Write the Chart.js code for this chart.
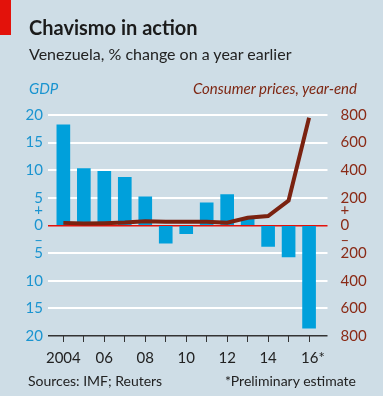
<!DOCTYPE html>
<html>
<head>
<meta charset="utf-8">
<script src="https://cdn.jsdelivr.net/npm/chart.js@4"></script>
<style>
  body { margin: 0; background: #cedde6; }
  #wrap { position: relative; width: 383px; height: 396px; overflow: hidden; font-family: Lato, sans-serif; }
  #wrap canvas { position: absolute; left: 0; top: 0; }
  .txt { position: absolute; line-height: 1; white-space: nowrap; }
  .redbar { position: absolute; left: 0; top: 0; width: 11px; height: 35px; background: #e3120b; }
</style>
</head>
<body>
<div id="wrap">
  <canvas id="chart" width="383" height="396"></canvas>
  <div class="redbar"></div>
  <div class="txt" style="left:29px; top:17px; font-size:20px; font-weight:bold; color:#1b1b1b;">Chavismo in action</div>
  <div class="txt" style="left:29px; top:46px; font-size:16px; color:#222;">Venezuela, % change on a year earlier</div>
  <div class="txt" style="left:29px; top:81px; font-size:15px; font-style:italic; color:#1a94d0;">GDP</div>
  <div class="txt" style="right:26px; top:81px; font-size:15px; font-style:italic; color:#7e2713;">Consumer prices, year-end</div>
  <div class="txt" style="left:28px; top:374px; font-size:14px; color:#222;">Sources: IMF; Reuters</div>
  <div class="txt" style="right:27px; top:374px; font-size:14px; color:#222;">*Preliminary estimate</div>
</div>
<script>
const years = [2004, 2005, 2006, 2007, 2008, 2009, 2010, 2011, 2012, 2013, 2014, 2015, 2016];
const yearLabels = ["2004", "", "06", "", "08", "", "10", "", "12", "", "14", "", "  16*"];
// GDP, % change on a year earlier
const gdp = [18.2, 10.3, 9.8, 8.7, 5.2, -3.2, -1.5, 4.1, 5.6, 1.3, -3.8, -5.7, -18.6];
// consumer prices, year-end, % change
const prices = [19, 14, 17, 22, 31, 27, 27, 28, 20, 56, 68, 181, 780];

const blue = "#00a0db";
const brown = "#7a2210";

function signLabel(v) {
	if (v === 0) return ["+", "0", "\u2013"];
	return String(Math.abs(v));
}

new Chart(document.getElementById("chart"), {
	type: "bar",
	data: {
		datasets: [
			{
				type: "line",
				data: years.map((y, i) => ({ x: y, y: prices[i] })),
				yAxisID: "y2",
				borderColor: brown,
				borderWidth: 4,
				pointRadius: 0,
				tension: 0,
				borderCapStyle: "butt",
				order: 0,
			},
			{
				type: "bar",
				data: years.map((y, i) => ({ x: y, y: gdp[i] })),
				yAxisID: "y",
				backgroundColor: blue,
				barThickness: 13,
				order: 1,
			},
		],
	},
	options: {
		responsive: false,
		animation: false,
		devicePixelRatio: 1,
		layout: { padding: { top: 115, left: 0, right: 0, bottom: 0 } },
		plugins: { legend: { display: false }, tooltip: { enabled: false } },
		scales: {
			x: {
				type: "linear",
				offset: false,
				min: 2003.25,
				max: 2016.9,
				afterFit: (s) => { s.height = 60; },
				border: { display: false },
				grid: { offset: false, drawOnChartArea: false, drawTicks: true, tickLength: 6, color: "#333", lineWidth: 1 },
				ticks: {
					stepSize: 1,
					includeBounds: false,
					autoSkip: false,
					maxRotation: 0,
					padding: 7,
					color: "#222",
					font: { family: "Lato", size: 15 },
					callback: (v) => yearLabels[v - 2004],
				},
			},
			y: {
				position: "left",
				min: -20,
				max: 20,
				afterFit: (s) => { s.width = 48; },
				border: { display: false },
				grid: {
					drawTicks: false,
					color: (c) => c.tick.value === 0 ? "#e3120b" : c.tick.value === -20 ? "#333" : "#fff",
					lineWidth: (c) => c.tick.value === 0 || c.tick.value === -20 ? 1.5 : 2,
				},
				ticks: {
					stepSize: 5,
					autoSkip: false,
					padding: 5,
					color: "#1a94d0",
					font: { family: "Lato", size: 15, lineHeight: 1 },
					callback: signLabel,
				},
			},
			y2: {
				position: "right",
				min: -800,
				max: 800,
				afterFit: (s) => { s.width = 55.5; },
				border: { display: false },
				grid: { display: false },
				ticks: {
					stepSize: 200,
					autoSkip: false,
					padding: 5,
					color: "#8a2a16",
					font: { family: "Lato", size: 15, lineHeight: 1 },
					callback: signLabel,
				},
			},
		},
	},
});
</script>
</body>
</html>
